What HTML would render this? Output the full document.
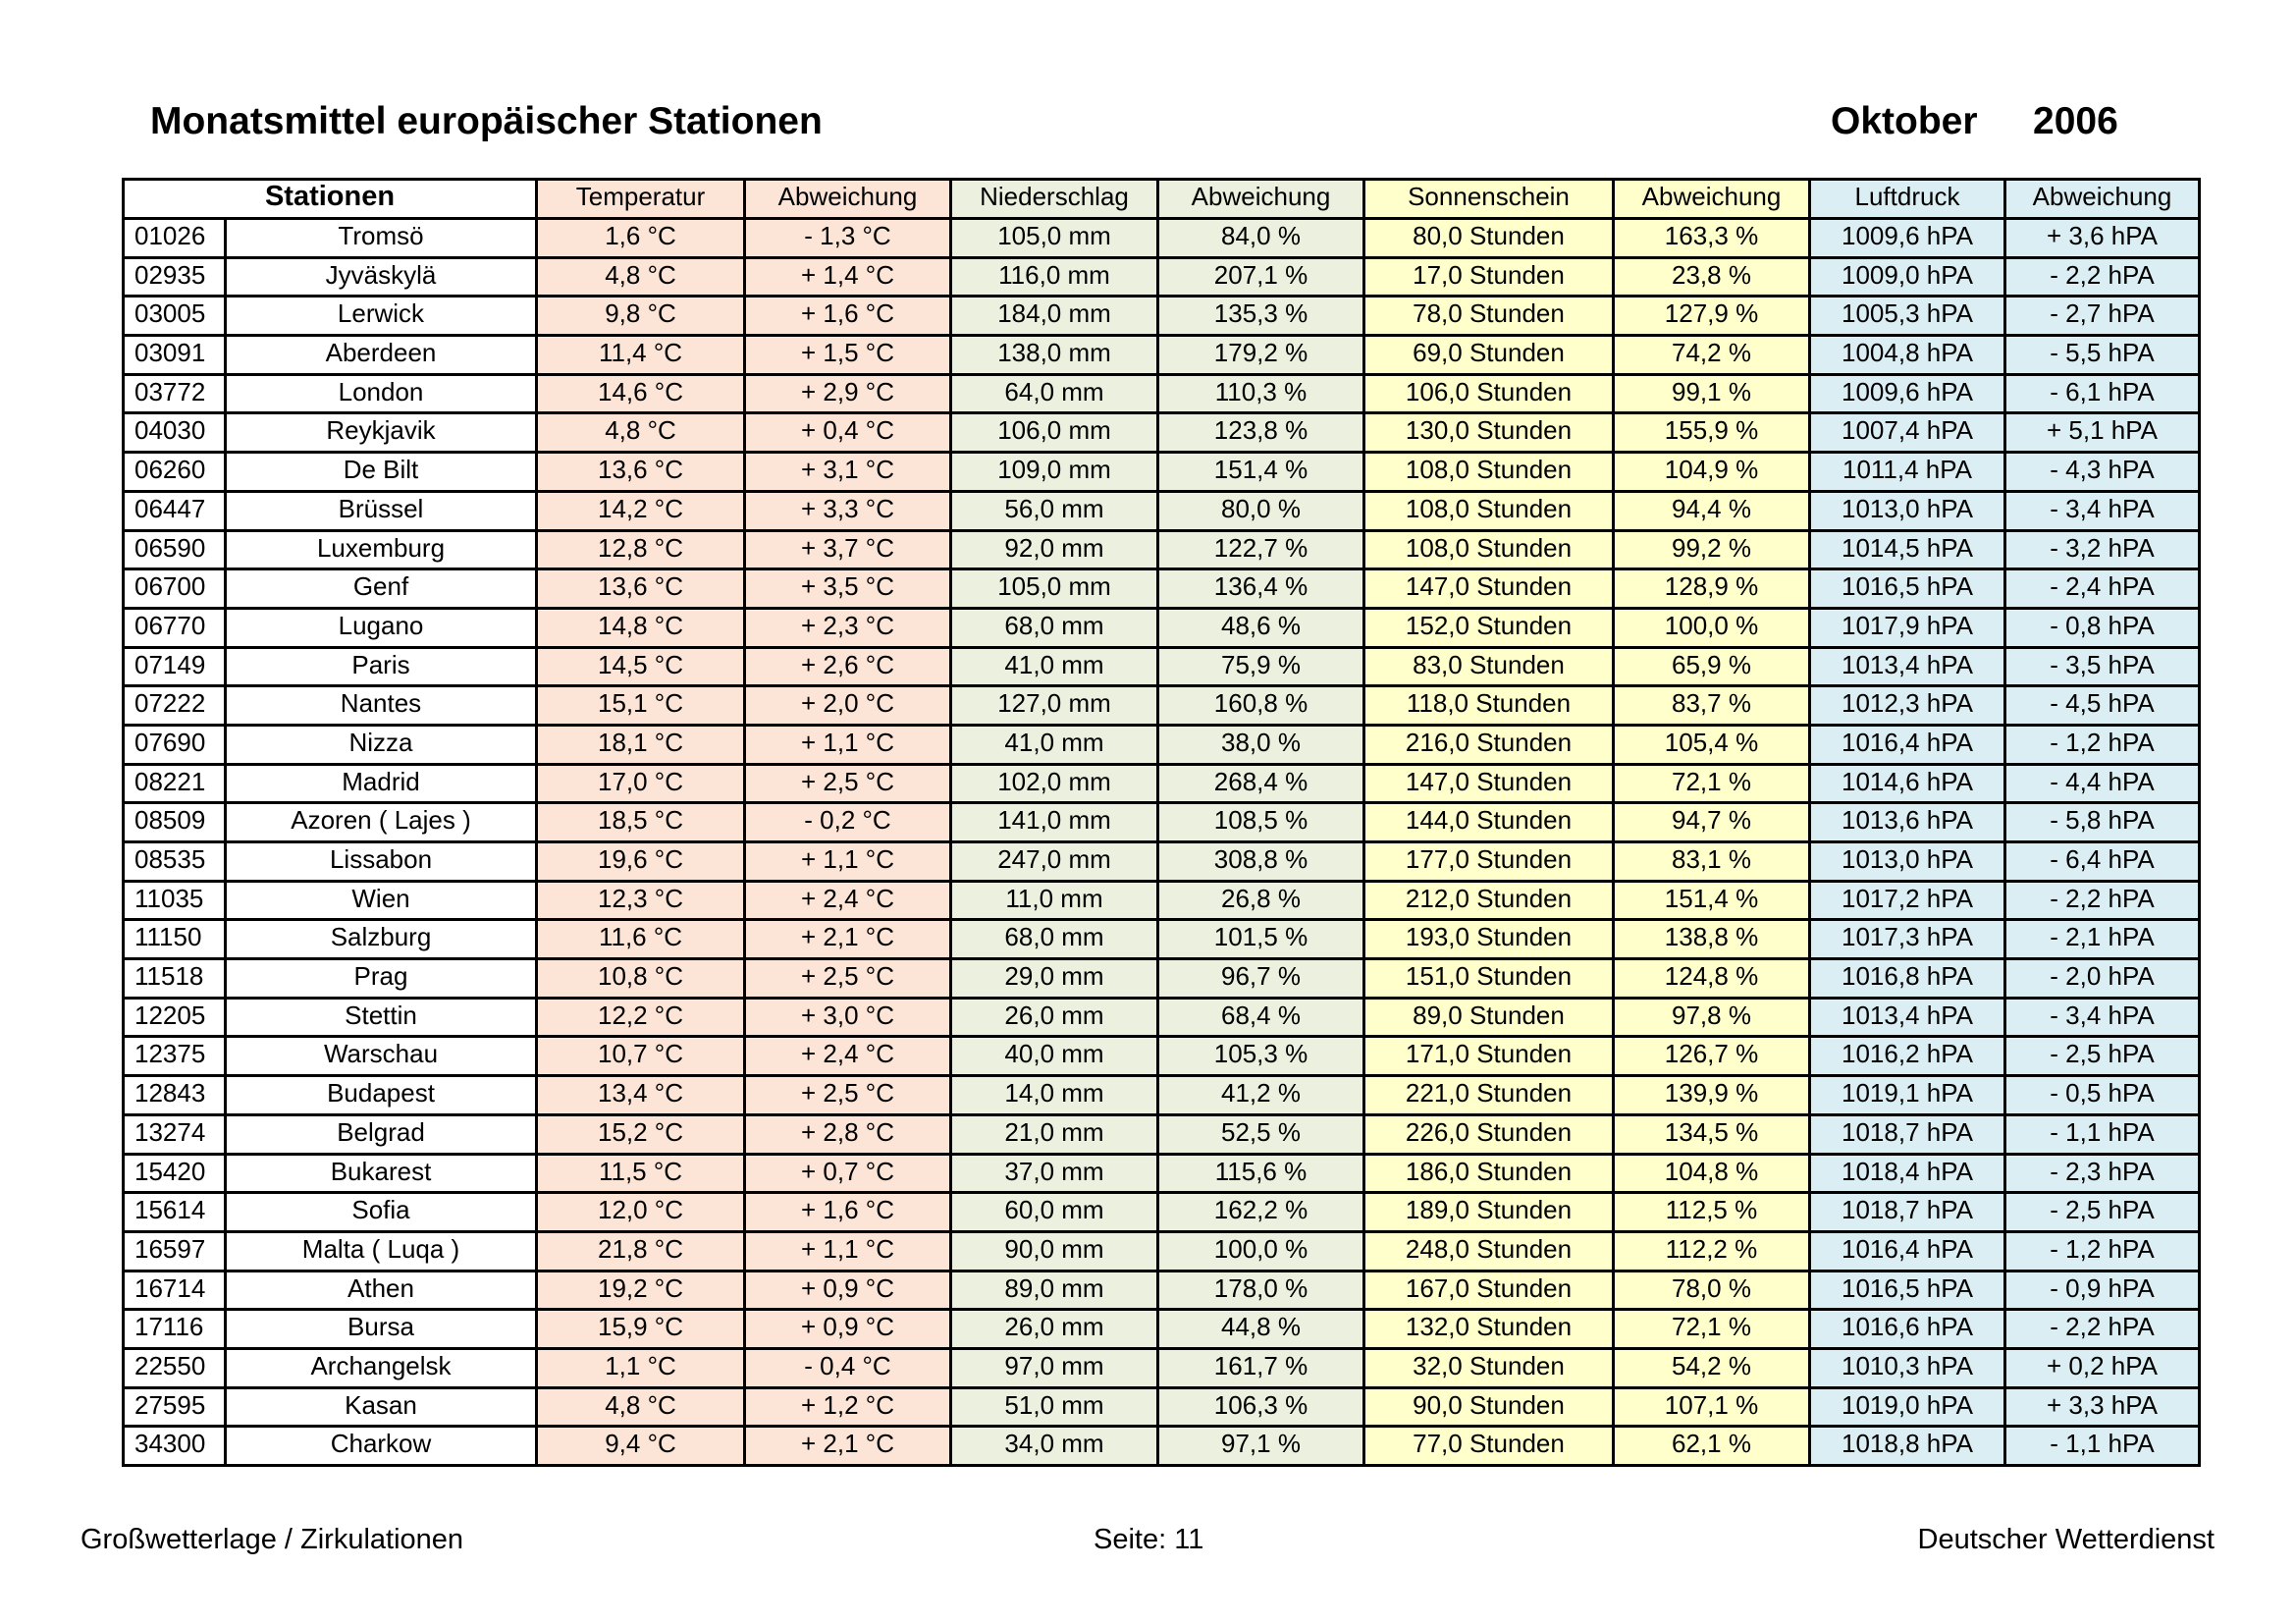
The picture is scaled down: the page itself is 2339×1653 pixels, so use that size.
<!DOCTYPE html>
<html><head><meta charset="utf-8"><style>
body{margin:0;width:2339px;height:1653px;background:#fff;position:relative;font-family:"Liberation Sans",Arial,sans-serif;overflow:hidden}
.t{position:absolute;white-space:nowrap;color:#000}
table{position:absolute;left:124px;top:181px;border-collapse:collapse;table-layout:fixed}
td{border:3px solid #000;height:33.7px;padding:0;font-size:26px;text-align:center;line-height:26px;vertical-align:top;padding-top:3px;overflow:hidden;white-space:nowrap}
tr.h td{height:34px}
td.id{text-align:left;padding-left:10px}
.a{background:#fce4d6}.b{background:#ebf1de}.c{background:#ffffcc}.d{background:#daeef3}
</style></head><body>
<div class="t" style="left:153px;top:102px;font-size:39px;font-weight:bold">Monatsmittel europäischer Stationen</div>
<div class="t" style="left:1865px;top:102px;font-size:39px;font-weight:bold">Oktober</div>
<div class="t" style="left:2071px;top:102px;font-size:39px;font-weight:bold">2006</div>
<table>
<colgroup><col style="width:104px"><col style="width:317px"><col style="width:212px"><col style="width:210px"><col style="width:211px"><col style="width:210px"><col style="width:254px"><col style="width:200px"><col style="width:199px"><col style="width:198px"></colgroup>
<tr class="h"><td colspan="2" style="font-weight:bold;font-size:29px">Stationen</td><td class="a">Temperatur</td><td class="a">Abweichung</td><td class="b">Niederschlag</td><td class="b">Abweichung</td><td class="c">Sonnenschein</td><td class="c">Abweichung</td><td class="d">Luftdruck</td><td class="d">Abweichung</td></tr>
<tbody id="b"></tbody>
</table>
<script>
var r=[
["01026","Tromsö","1,6","- 1,3","105,0","84,0","80,0","163,3","1009,6","+ 3,6"],
["02935","Jyväskylä","4,8","+ 1,4","116,0","207,1","17,0","23,8","1009,0","- 2,2"],
["03005","Lerwick","9,8","+ 1,6","184,0","135,3","78,0","127,9","1005,3","- 2,7"],
["03091","Aberdeen","11,4","+ 1,5","138,0","179,2","69,0","74,2","1004,8","- 5,5"],
["03772","London","14,6","+ 2,9","64,0","110,3","106,0","99,1","1009,6","- 6,1"],
["04030","Reykjavik","4,8","+ 0,4","106,0","123,8","130,0","155,9","1007,4","+ 5,1"],
["06260","De Bilt","13,6","+ 3,1","109,0","151,4","108,0","104,9","1011,4","- 4,3"],
["06447","Brüssel","14,2","+ 3,3","56,0","80,0","108,0","94,4","1013,0","- 3,4"],
["06590","Luxemburg","12,8","+ 3,7","92,0","122,7","108,0","99,2","1014,5","- 3,2"],
["06700","Genf","13,6","+ 3,5","105,0","136,4","147,0","128,9","1016,5","- 2,4"],
["06770","Lugano","14,8","+ 2,3","68,0","48,6","152,0","100,0","1017,9","- 0,8"],
["07149","Paris","14,5","+ 2,6","41,0","75,9","83,0","65,9","1013,4","- 3,5"],
["07222","Nantes","15,1","+ 2,0","127,0","160,8","118,0","83,7","1012,3","- 4,5"],
["07690","Nizza","18,1","+ 1,1","41,0","38,0","216,0","105,4","1016,4","- 1,2"],
["08221","Madrid","17,0","+ 2,5","102,0","268,4","147,0","72,1","1014,6","- 4,4"],
["08509","Azoren ( Lajes )","18,5","- 0,2","141,0","108,5","144,0","94,7","1013,6","- 5,8"],
["08535","Lissabon","19,6","+ 1,1","247,0","308,8","177,0","83,1","1013,0","- 6,4"],
["11035","Wien","12,3","+ 2,4","11,0","26,8","212,0","151,4","1017,2","- 2,2"],
["11150","Salzburg","11,6","+ 2,1","68,0","101,5","193,0","138,8","1017,3","- 2,1"],
["11518","Prag","10,8","+ 2,5","29,0","96,7","151,0","124,8","1016,8","- 2,0"],
["12205","Stettin","12,2","+ 3,0","26,0","68,4","89,0","97,8","1013,4","- 3,4"],
["12375","Warschau","10,7","+ 2,4","40,0","105,3","171,0","126,7","1016,2","- 2,5"],
["12843","Budapest","13,4","+ 2,5","14,0","41,2","221,0","139,9","1019,1","- 0,5"],
["13274","Belgrad","15,2","+ 2,8","21,0","52,5","226,0","134,5","1018,7","- 1,1"],
["15420","Bukarest","11,5","+ 0,7","37,0","115,6","186,0","104,8","1018,4","- 2,3"],
["15614","Sofia","12,0","+ 1,6","60,0","162,2","189,0","112,5","1018,7","- 2,5"],
["16597","Malta ( Luqa )","21,8","+ 1,1","90,0","100,0","248,0","112,2","1016,4","- 1,2"],
["16714","Athen","19,2","+ 0,9","89,0","178,0","167,0","78,0","1016,5","- 0,9"],
["17116","Bursa","15,9","+ 0,9","26,0","44,8","132,0","72,1","1016,6","- 2,2"],
["22550","Archangelsk","1,1","- 0,4","97,0","161,7","32,0","54,2","1010,3","+ 0,2"],
["27595","Kasan","4,8","+ 1,2","51,0","106,3","90,0","107,1","1019,0","+ 3,3"],
["34300","Charkow","9,4","+ 2,1","34,0","97,1","77,0","62,1","1018,8","- 1,1"]];
var h="";
r.forEach(function(x){h+='<tr><td class="id">'+x[0]+'</td><td>'+x[1]+'</td><td class="a">'+x[2]+' °C</td><td class="a">'+x[3]+' °C</td><td class="b">'+x[4]+' mm</td><td class="b">'+x[5]+' %</td><td class="c">'+x[6]+' Stunden</td><td class="c">'+x[7]+' %</td><td class="d">'+x[8]+' hPA</td><td class="d">'+x[9]+' hPA</td></tr>';});
document.getElementById("b").innerHTML=h;
</script>
<div class="t" style="left:82px;top:1552px;font-size:29px">Großwetterlage / Zirkulationen</div>
<div class="t" style="left:1114px;top:1552px;font-size:29px">Seite: 11</div>
<div class="t" style="right:83px;top:1552px;font-size:29px">Deutscher Wetterdienst</div>
</body></html>
